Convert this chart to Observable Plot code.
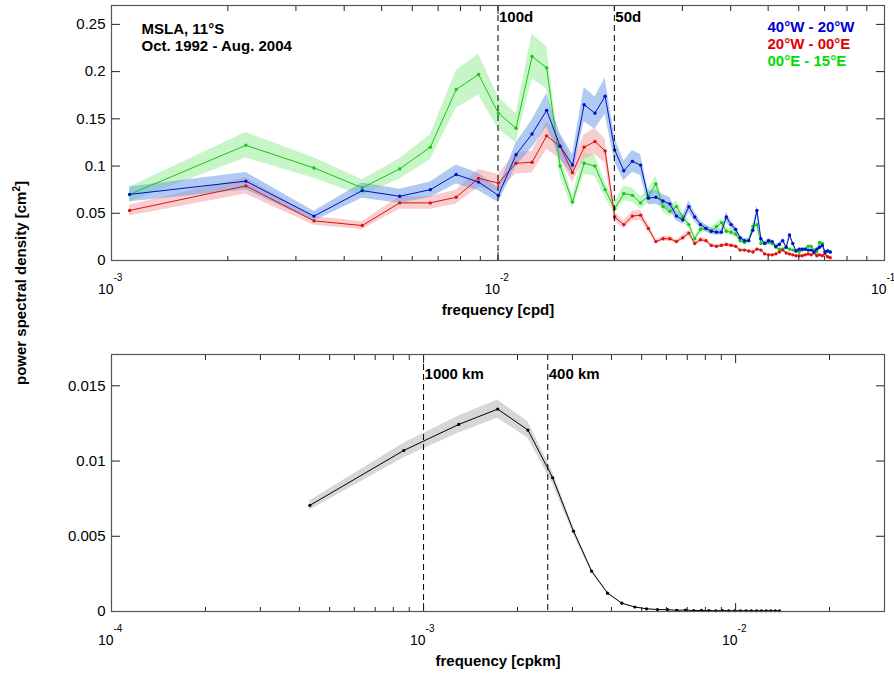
<!DOCTYPE html>
<html><head><meta charset="utf-8">
<script src="https://cdn.jsdelivr.net/npm/d3@7"></script>
<script src="https://cdn.jsdelivr.net/npm/@observablehq/plot@0.6"></script>
<style>
body{margin:0;background:#fff;}
#wrap{position:relative;width:894px;height:675px;font-family:"Liberation Sans",Arial,Helvetica,sans-serif;}
#wrap svg{display:block;}
#ylab{position:absolute;left:20px;top:283px;transform:translate(-50%,-50%) rotate(-90deg);font-weight:bold;font-size:15px;white-space:nowrap;line-height:15px;}
#ylab sup{font-size:10px;vertical-align:6px;line-height:0;}
</style></head><body>
<div id="wrap"><div id="ylab">power spectral density [cm<sup>2</sup>]</div></div>
<script>
// ---------- top panel: temporal spectra (cpd) ----------
const freqCpd = [0.001114,0.002227,0.003341,0.004454,0.005568,0.006682,0.007795,0.008909,0.010022,0.011136,
0.012250,0.013363,0.014477,0.015590,0.016704,0.017818,0.018931,0.020045,0.021158,0.022272,
0.023386,0.024499,0.025613,0.026726,0.027840,0.028954,0.030067,0.031181,0.032294,0.033408,
0.034522,0.035635,0.036749,0.037862,0.038976,0.040090,0.041203,0.042317,0.043430,0.044544,
0.045658,0.046771,0.047885,0.048998,0.050112,0.051226,0.052339,0.053453,0.054566,0.055680,
0.056794,0.057907,0.059021,0.060134,0.061248,0.062362,0.063475,0.064589,0.065702,0.066816,
0.067930,0.069043,0.070157,0.071270,0.072384];
const psdBlue = [0.070,0.084,0.047,0.074,0.068,0.075,0.091,0.083,0.069,0.112,
0.134,0.159,0.121,0.101,0.165,0.156,0.174,0.117,0.095,0.105,
0.101,0.066,0.067,0.063,0.060,0.047,0.043,0.057,0.046,0.038,
0.034,0.031,0.030,0.030,0.046,0.038,0.033,0.024,0.021,0.021,
0.032,0.053,0.023,0.018,0.021,0.020,0.015,0.017,0.021,0.014,
0.027,0.018,0.010,0.012,0.012,0.012,0.011,0.011,0.009,0.012,
0.014,0.016,0.009,0.010,0.009];
const psdRed = [0.053,0.079,0.042,0.037,0.061,0.061,0.067,0.087,0.082,0.103,
0.104,0.132,0.121,0.093,0.120,0.126,0.116,0.046,0.038,0.047,
0.048,0.034,0.020,0.023,0.023,0.020,0.024,0.029,0.018,0.022,
0.021,0.016,0.015,0.016,0.017,0.016,0.015,0.011,0.011,0.010,
0.009,0.012,0.011,0.007,0.006,0.006,0.007,0.009,0.011,0.008,
0.007,0.006,0.005,0.005,0.005,0.006,0.007,0.006,0.008,0.005,
0.006,0.005,0.007,0.004,0.003];
const psdGreen = [0.070,0.122,0.098,0.077,0.097,0.120,0.181,0.197,0.156,0.140,
0.216,0.204,0.100,0.062,0.103,0.100,0.075,0.055,0.071,0.069,
0.061,0.068,0.081,0.057,0.052,0.057,0.046,0.038,0.023,0.033,
0.034,0.031,0.036,0.040,0.031,0.030,0.028,0.021,0.019,0.021,
0.036,0.038,0.018,0.018,0.019,0.018,0.014,0.012,0.012,0.014,
0.012,0.011,0.010,0.009,0.011,0.012,0.015,0.015,0.011,0.009,
0.019,0.018,0.009,0.010,0.009];
const ciTopLow = 0.89, ciTopHigh = 1.11;   // confidence factors of the spectral estimate
const legendLabels = ["40°W - 20°W","20°W - 00°E","00°E - 15°E"];
const periodLines = [{f:0.01,label:"100d"},{f:0.02,label:"50d"}];
const xMajorTop = [0.001,0.01,0.1], xExpTop = ["-3","-2","-1"];
const xMinorTop = [0.002,0.003,0.004,0.005,0.006,0.007,0.008,0.009,0.02,0.03,0.04,0.05,0.06,0.07,0.08,0.09];
const yTicksTop = [0,0.05,0.1,0.15,0.2,0.25], yLabelsTop = ["0","0.05","0.1","0.15","0.2","0.25"];

// ---------- bottom panel: wavenumber spectrum (cpkm) ----------
const freqCpkm = [0.000432,0.000864,0.001296,0.001728,0.002160,0.002592,0.003024,0.003456,0.003888,0.004320,
0.004752,0.005184,0.005616,0.006048,0.006480,0.006912,0.007344,0.007776,0.008208,0.008640,
0.009072,0.009504,0.009936,0.010368,0.010800,0.011232,0.011664,0.012096,0.012528,0.012960,
0.013392,0.013824];
const psdK = [0.00705,0.01070,0.01243,0.01345,0.01206,0.00889,0.00534,0.00268,0.00122,0.00055,
0.00030,0.00018,0.00013,0.00012,0.00008,0.00010,0.00006,0.00007,0.00006,0.00005,
0.00006,0.00005,0.00005,0.00005,0.00005,0.00005,0.00005,0.00005,0.00005,0.00005,
0.00005,0.00005];
const ciBotLow = 0.955, ciBotHigh = 1.045;
const scaleLines = [{f:0.001,label:"1000 km"},{f:0.0025,label:"400 km"}];
const xMajorBot = [0.0001,0.001,0.01], xExpBot = ["-4","-3","-2"];
const xMinorBot = [0.0002,0.0003,0.0004,0.0005,0.0006,0.0007,0.0008,0.0009,0.002,0.003,0.004,0.005,0.006,0.007,0.008,0.009,0.02];
const yTicksBot = [0,0.005,0.01,0.015], yLabelsBot = ["0","0.005","0.01","0.015"];
const tickBase = "10";

const FONT = "Liberation Sans, Arial, Helvetica, sans-serif";
const frameColor = "#555";
const tickColor = "#222";

// inward-pointing ticks on all four sides (IDL style)
function frameTicks(xMajor, xMinor, yTicks) {
  const none = () => "";
  const o = {tickFormat: none, label: null, stroke: tickColor, tickPadding: 0};
  return [
    Plot.axisX(xMajor, {...o, anchor: "bottom", tickSize: 8, dy: -8}),
    Plot.axisX(xMinor, {...o, anchor: "bottom", tickSize: 4, dy: -4}),
    Plot.axisX(xMajor, {...o, anchor: "top", tickSize: 8, dy: 8}),
    Plot.axisX(xMinor, {...o, anchor: "top", tickSize: 5, dy: 5}),
    Plot.axisY(yTicks, {...o, anchor: "left", tickSize: 9, dx: 9}),
    Plot.axisY(yTicks, {...o, anchor: "right", tickSize: 9, dx: -9})
  ];
}
function tickLabels(xMajor, xExp, yTicks, yLabels, xTitle) {
  const xt = xMajor.map((v, i) => ({v, exp: xExp[i]}));
  const yt = yTicks.map((v, i) => ({v, label: yLabels[i]}));
  return [
    Plot.text(xt, {x: "v", text: () => tickBase, frameAnchor: "bottom", textAnchor: "end", lineAnchor: "bottom", dx: 2, dy: 33, fontSize: 14}),
    Plot.text(xt, {x: "v", text: "exp", frameAnchor: "bottom", textAnchor: "start", lineAnchor: "bottom", dx: 2, dy: 20, fontSize: 10}),
    Plot.text(yt, {y: "v", text: "label", frameAnchor: "left", textAnchor: "end", dx: -6, fontSize: 15}),
    Plot.text([xTitle], {frameAnchor: "bottom", textAnchor: "middle", lineAnchor: "bottom", dy: 54, fontWeight: "bold", fontSize: 15})
  ];
}

const series = [
  {name: legendLabels[2], values: psdGreen, line: "#12cc12", band: "#9bed9b", text: "#00dd00"},
  {name: legendLabels[1], values: psdRed, line: "#e01010", band: "#f2a4a4", text: "#e00000"},
  {name: legendLabels[0], values: psdBlue, line: "#0010c8", band: "#6f9fe6", text: "#0000d0"}
];
const seriesRows = series.map(s => freqCpd.map((f, i) => ({f, v: s.values[i]})));

const topMarks = [];
series.forEach((s, j) => topMarks.push(Plot.areaY(seriesRows[j], {x: "f", y1: d => d.v * ciTopLow, y2: d => d.v * ciTopHigh, fill: s.band, fillOpacity: 0.55})));
series.forEach((s, j) => {
  topMarks.push(Plot.lineY(seriesRows[j], {x: "f", y: "v", stroke: s.line, strokeWidth: 1}));
  topMarks.push(Plot.dot(seriesRows[j], {x: "f", y: "v", r: 1.7, fill: s.line}));
});

const topPlot = Plot.plot({
  width: 894, height: 320,
  marginLeft: 111, marginRight: 10, marginTop: 5, marginBottom: 60,
  style: {fontFamily: FONT, fontSize: "15px", background: "white", color: "black"},
  x: {type: "log", domain: [0.001, 0.1]},
  y: {domain: [0, 0.27]},
  marks: [
    ...topMarks,
    Plot.ruleX(periodLines, {x: "f", stroke: "black", strokeDasharray: "6,4", strokeWidth: 1}),
    Plot.text(periodLines, {x: "f", text: "label", frameAnchor: "top", textAnchor: "start", lineAnchor: "bottom", dx: 1, dy: 16, fontWeight: "bold", fontSize: 15}),
    Plot.text(["MSLA, 11°S"], {frameAnchor: "top-left", textAnchor: "start", lineAnchor: "bottom", dx: 30, dy: 28, fontWeight: "bold", fontSize: 15}),
    Plot.text(["Oct. 1992 - Aug. 2004"], {frameAnchor: "top-left", textAnchor: "start", lineAnchor: "bottom", dx: 30, dy: 45, fontWeight: "bold", fontSize: 15}),
    Plot.text([legendLabels[0]], {frameAnchor: "top-left", textAnchor: "start", lineAnchor: "bottom", dx: 656, dy: 26, fontWeight: "bold", fontSize: 15, fill: series[2].text}),
    Plot.text([legendLabels[1]], {frameAnchor: "top-left", textAnchor: "start", lineAnchor: "bottom", dx: 656, dy: 43, fontWeight: "bold", fontSize: 15, fill: series[1].text}),
    Plot.text([legendLabels[2]], {frameAnchor: "top-left", textAnchor: "start", lineAnchor: "bottom", dx: 656, dy: 60, fontWeight: "bold", fontSize: 15, fill: series[0].text}),
    ...frameTicks(xMajorTop, xMinorTop, yTicksTop),
    ...tickLabels(xMajorTop, xExpTop, yTicksTop, yLabelsTop, "frequency [cpd]"),
    Plot.frame({stroke: frameColor, strokeWidth: 1.2})
  ]
});

const botRows = freqCpkm.map((f, i) => ({f, v: psdK[i]}));
const bottomPlot = Plot.plot({
  width: 894, height: 355,
  marginLeft: 111, marginRight: 10, marginTop: 34, marginBottom: 64,
  style: {fontFamily: FONT, fontSize: "15px", background: "white", color: "black"},
  x: {type: "log", domain: [0.0001, 0.03]},
  y: {domain: [0, 0.01708]},
  marks: [
    Plot.areaY(botRows, {x: "f", y1: d => d.v * ciBotLow, y2: d => d.v * ciBotHigh, fill: "#b6b6b6", fillOpacity: 0.55}),
    Plot.lineY(botRows, {x: "f", y: "v", stroke: "black", strokeWidth: 1}),
    Plot.dot(botRows, {x: "f", y: "v", r: 1.6, fill: "black"}),
    Plot.ruleX(scaleLines, {x: "f", stroke: "black", strokeDasharray: "6,4", strokeWidth: 1}),
    Plot.text(scaleLines, {x: "f", text: "label", frameAnchor: "top", textAnchor: "start", lineAnchor: "bottom", dx: 1, dy: 24, fontWeight: "bold", fontSize: 15}),
    ...frameTicks(xMajorBot, xMinorBot, yTicksBot),
    ...tickLabels(xMajorBot, xExpBot, yTicksBot, yLabelsBot, "frequency [cpkm]"),
    Plot.frame({stroke: frameColor, strokeWidth: 1.2})
  ]
});

const wrap = document.getElementById("wrap");
wrap.appendChild(topPlot);
wrap.appendChild(bottomPlot);
</script>
</body></html>
